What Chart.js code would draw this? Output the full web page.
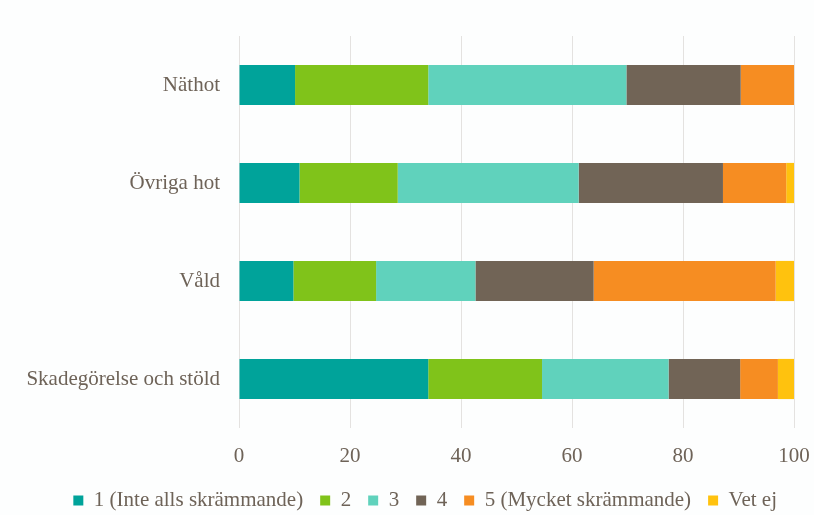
<!DOCTYPE html>
<html>
<head>
<meta charset="utf-8">
<script src="https://cdn.jsdelivr.net/npm/chart.js@4/dist/chart.umd.min.js"></script>
<style>
  html, body { margin: 0; padding: 0; background: #fdfefe; }
  #wrap { width: 814px; height: 515px; }
</style>
</head>
<body>
<div id="wrap"><canvas id="fearChart" width="814" height="515"></canvas></div>
<script>
// --- data ---
const categories = ["Näthot", "Övriga hot", "Våld", "Skadegörelse och stöld"];
const seriesNames = ["1 (Inte alls skrämmande)", "2", "3", "4", "5 (Mycket skrämmande)", "Vet ej"];
const s1 = [10.1, 10.9, 9.8, 34.1];
const s2 = [24.0, 17.7, 14.9, 20.5];
const s3 = [35.7, 32.6, 17.9, 22.8];
const s4 = [20.6, 26.0, 21.3, 12.9];
const s5 = [9.7, 11.4, 32.8, 6.8];
const vetEj = [0, 1.4, 3.3, 2.9];
const xTicks = [0, 20, 40, 60, 80, 100];

const colors = ["#00a39a", "#80c31a", "#60d2bc", "#716456", "#f68d22", "#ffc20e"];
const textColor = "#6e6358";

const seriesValues = [s1, s2, s3, s4, s5, vetEj];

Chart.defaults.font.family = "Liberation Serif";
Chart.defaults.font.size = 21;
Chart.defaults.color = textColor;

// shrink the legend box so it sits lower, like the original
const legendHeight = {
    id: "legendHeight",
    afterInit(chart) {
        const fit = chart.legend.fit;
        chart.legend.fit = function () {
            fit.call(this);
            this.height = 42;
        };
    }
};

const ctx = document.getElementById("fearChart").getContext("2d");
let fearChart = new Chart(ctx, {
    type: "bar",
    data: {
        labels: categories,
        datasets: seriesNames.map((name, i) => ({
            label: name,
            data: seriesValues[i],
            backgroundColor: colors[i],
            borderWidth: 0,
            barPercentage: 0.41,
            categoryPercentage: 1.0
        }))
    },
    plugins: [legendHeight],
    options: {
        responsive: false,
        animation: false,
        indexAxis: "y",
        layout: { padding: { top: 36, right: 20, left: 0, bottom: 0 } },
        plugins: {
            tooltip: { enabled: false },
            legend: {
                position: "bottom",
                align: "end",
                labels: {
                    boxWidth: 10,
                    boxHeight: 10,
                    padding: 17
                }
            }
        },
        scales: {
            x: {
                stacked: true,
                min: 0,
                max: 100,
                afterBuildTicks: (scale) => { scale.ticks = xTicks.map(v => ({ value: v })); },
                afterFit: (scale) => { scale.height = 45; scale.paddingRight = 0; },
                grid: { color: "#e4e2e0", lineWidth: 1, drawTicks: false },
                border: { display: false },
                ticks: { padding: 16 }
            },
            y: {
                stacked: true,
                grid: { display: false },
                border: { display: false },
                afterFit: (scale) => { scale.width = 239; },
                ticks: { padding: 11 }
            }
        }
    }
});
</script>
</body>
</html>
